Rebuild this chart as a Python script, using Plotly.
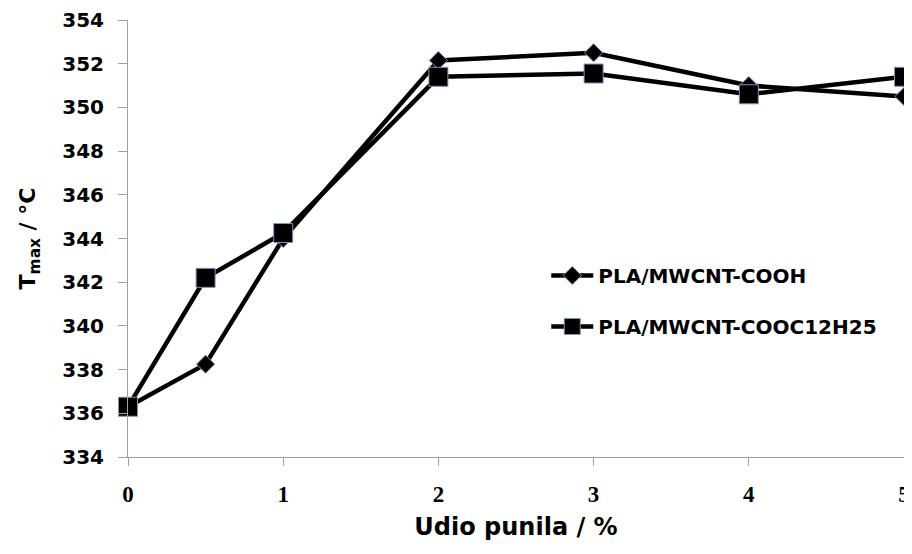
import plotly.graph_objects as go

filler = [0, 0.5, 1, 2, 3, 4, 5]
tmax_cooh = [336.3, 338.25, 344.0, 352.15, 352.5, 351.0, 350.5]
tmax_c12 = [336.3, 342.2, 344.25, 351.4, 351.55, 350.6, 351.4]
y_ticks = list(range(334, 356, 2))
x_ticks = [0, 1, 2, 3, 4, 5]

fig = go.Figure()

fig.add_trace(go.Scatter(
    x=filler, y=tmax_cooh, mode="lines+markers", name="PLA/MWCNT-COOH",
    legendgroup="a", cliponaxis=False,
    line=dict(color="black", width=4.5),
    marker=dict(symbol="diamond", size=14, color="black",
                line=dict(color="#7f95b8", width=1))
))
fig.add_trace(go.Scatter(
    x=filler, y=tmax_c12, mode="lines+markers", name="PLA/MWCNT-COOC12H25",
    legendgroup="b", cliponaxis=False,
    line=dict(color="black", width=4.5),
    marker=dict(symbol="square", size=19, color="black",
                line=dict(color="#7f95b8", width=1))
))

# page body has an 8px margin, so the figure margins are shifted by that
fig.update_layout(
    width=912, height=554,
    paper_bgcolor="white", plot_bgcolor="white",
    margin=dict(l=120, r=16, t=12, b=105, autoexpand=False),
    font=dict(family="DejaVu Sans", color="black"),
    legend=dict(x=0.539, y=0.46, xanchor="left", yanchor="top",
                bgcolor="rgba(0,0,0,0)", tracegroupgap=22, itemwidth=42,
                font=dict(family="DejaVu Sans", size=20, weight="bold")),
    showlegend=True,
)
fig.update_xaxes(
    range=[0, 5], tickvals=x_ticks, showline=True, linecolor="#a0a0a0", linewidth=1,
    ticks="outside", ticklen=8, tickcolor="#a0a0a0", showgrid=False, zeroline=False,
    automargin=False, ticklabelstandoff=8,
    tickfont=dict(family="Liberation Serif", size=23, weight="bold"),
    title=dict(text="Udio punila / %", standoff=12,
               font=dict(family="DejaVu Sans", size=24, weight="bold")),
)
fig.update_yaxes(
    range=[334, 354], tickvals=y_ticks, showline=True, linecolor="#a0a0a0", linewidth=1,
    ticks="outside", ticklen=9, tickcolor="#a0a0a0", showgrid=False, zeroline=False,
    automargin=False, ticklabelstandoff=10,
    tickfont=dict(family="DejaVu Sans", size=20, weight="bold"),
    title=dict(text="T<sub>max</sub> / °C", standoff=20,
               font=dict(family="DejaVu Sans", size=22, weight="bold")),
)

fig.write_html("out.html")
